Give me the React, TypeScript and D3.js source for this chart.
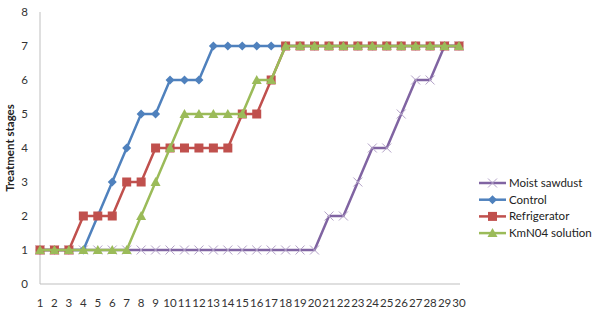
import React from 'react';
import * as d3 from 'd3';

const days = d3.range(1, 31);
const yTicks = [0, 1, 2, 3, 4, 5, 6, 7, 8];

const moistSawdust = [1, 1, 1, 1, 1, 1, 1, 1, 1, 1, 1, 1, 1, 1, 1, 1, 1, 1, 1, 1, 2, 2, 3, 4, 4, 5, 6, 6, 7, 7];
const control = [1, 1, 1, 1, 2, 3, 4, 5, 5, 6, 6, 6, 7, 7, 7, 7, 7, 7, 7, 7, 7, 7, 7, 7, 7, 7, 7, 7, 7, 7];
const refrigerator = [1, 1, 1, 2, 2, 2, 3, 3, 4, 4, 4, 4, 4, 4, 5, 5, 6, 7, 7, 7, 7, 7, 7, 7, 7, 7, 7, 7, 7, 7];
const kmno4 = [1, 1, 1, 1, 1, 1, 1, 2, 3, 4, 5, 5, 5, 5, 5, 6, 6, 7, 7, 7, 7, 7, 7, 7, 7, 7, 7, 7, 7, 7];

const series = [
  { name: 'Moist sawdust', values: moistSawdust, color: '#8064A2', marker: 'x' },
  { name: 'Control', values: control, color: '#4F81BD', marker: 'diamond' },
  { name: 'Refrigerator', values: refrigerator, color: '#C0504D', marker: 'square' },
  { name: 'KmN04 solution', values: kmno4, color: '#9BBB59', marker: 'triangle' },
];

const font = 'Lato, "Open Sans", sans-serif';

function Marker({ type, x, y, color }: { type: string; x: number; y: number; color: string }) {
  if (type === 'x') {
    const s = 4.5;
    return (
      <path
        d={`M${x - s},${y - s}L${x + s},${y + s}M${x - s},${y + s}L${x + s},${y - s}`}
        stroke="#B3A2C7"
        strokeWidth={1}
        fill="none"
      />
    );
  }
  if (type === 'diamond') {
    const s = 4.5;
    return <path d={`M${x},${y - s}L${x + s},${y}L${x},${y + s}L${x - s},${y}Z`} fill={color} />;
  }
  if (type === 'square') {
    const s = 4.5;
    return <rect x={x - s} y={y - s} width={2 * s} height={2 * s} fill={color} />;
  }
  const s = 5;
  return <path d={`M${x},${y - s}L${x + s},${y + s * 0.8}L${x - s},${y + s * 0.8}Z`} fill={color} />;
}

export default function App() {
  const width = 595;
  const height = 312;
  const left = 40;
  const right = 459;
  const top = 12;
  const bottom = 284;

  const x = d3.scalePoint<number>().domain(days).range([left, right]);
  const y = d3.scaleLinear().domain([0, 8]).range([bottom, top]);

  const line = d3
    .line<number>()
    .x((_, i) => x(days[i]) as number)
    .y((d) => y(d));

  return (
    <svg
      width={width}
      height={height}
      style={{ position: 'absolute', left: 0, top: 0, background: '#fff' }}
      fontFamily={font}
    >
      <rect width={width} height={height} fill="#fff" />
      {/* axes */}
      <line x1={left} x2={left} y1={top} y2={bottom} stroke="#BFBFBF" strokeWidth={1} />
      <line x1={left} x2={right + 1} y1={bottom} y2={bottom} stroke="#BFBFBF" strokeWidth={1} />
      {yTicks.map((t) => (
        <text key={t} x={28} y={y(t)} dy="0.35em" textAnchor="end" fontSize={11.5} fill="#333">
          {t}
        </text>
      ))}
      {days.map((d) => (
        <text key={d} x={x(d)} y={307} textAnchor="middle" fontSize={11.5} fill="#333">
          {d}
        </text>
      ))}
      <text
        transform={`translate(14, ${(top + bottom) / 2}) rotate(-90)`}
        textAnchor="middle"
        fontSize={11.5}
        fontWeight="bold"
        fill="#222"
      >
        Treatment stages
      </text>

      {/* series */}
      {series.map((s) => (
        <g key={s.name}>
          <path d={line(s.values) || ''} fill="none" stroke={s.color} strokeWidth={2.5} strokeLinejoin="round" />
          {s.values.map((v, i) => (
            <Marker key={i} type={s.marker} x={x(days[i]) as number} y={y(v)} color={s.color} />
          ))}
        </g>
      ))}

      {/* legend */}
      {series.map((s, i) => {
        const ly = 183 + i * 16.7;
        return (
          <g key={s.name}>
            <line x1={479} x2={506} y1={ly} y2={ly} stroke={s.color} strokeWidth={2.5} />
            <Marker type={s.marker} x={492.5} y={ly} color={s.color} />
            <text x={509} y={ly} dy="0.35em" fontSize={11.5} fill="#222">
              {s.name}
            </text>
          </g>
        );
      })}
    </svg>
  );
}
